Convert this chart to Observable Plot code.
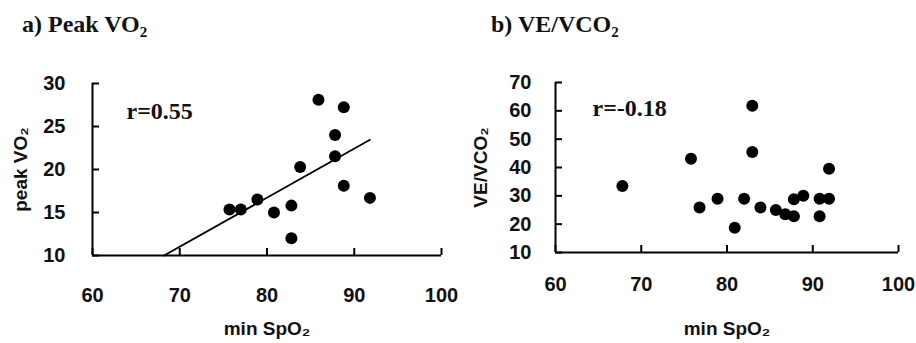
<!DOCTYPE html>
<html><head><meta charset="utf-8">
<script src="https://cdn.jsdelivr.net/npm/d3@7"></script>
<script src="https://cdn.jsdelivr.net/npm/@observablehq/plot@0.6"></script>
<style>
body{margin:0;background:#fff}
#wrap{position:relative;width:916px;height:343px;overflow:hidden;background:#fff}
.panel{position:absolute;top:0}
.ptitle{position:absolute;font-family:Liberation Serif, Times New Roman, serif;font-weight:bold;font-size:24px;line-height:24px;white-space:nowrap;color:#111}
.ptitle sub{font-size:15px;vertical-align:-5px;line-height:0}
</style></head>
<body><div id="wrap"></div>
<script>
// ---- data ----
const xTicks = [60, 70, 80, 90, 100];
const vo2Ticks = [10, 15, 20, 25, 30];
const veTicks = [10, 20, 30, 40, 50, 60, 70];

// panel a) peak VO2 vs min SpO2
const vo2SpO2  = [85.9, 88.8, 87.8, 87.8, 83.8, 88.8, 91.8, 78.9, 75.7, 77.0, 80.8, 82.8, 82.8];
const vo2Value = [28.1, 27.25, 24.0, 21.55, 20.3, 18.1, 16.7, 16.5, 15.35, 15.35, 15.0, 15.8, 12.0];
// fitted trend line
const fitSpO2 = [68.2, 91.8];
const fitVo2  = [10, 23.45];

// panel b) VE/VCO2 vs min SpO2
const veSpO2  = [67.8, 75.8, 82.95, 82.95, 91.9, 76.8, 78.9, 82.0, 80.9, 83.9, 85.7, 86.8, 87.8, 87.8, 88.9, 90.8, 91.9, 90.8];
const veValue = [33.5, 43.1, 61.8, 45.5, 39.6, 25.9, 29.0, 29.0, 18.7, 25.9, 25.0, 23.5, 22.8, 28.8, 30.0, 29.0, 29.0, 22.8];

const titles = ["a) Peak VO<sub>2</sub>", "b) VE/VCO<sub>2</sub>"];
const rTexts = ["r=0.55", "r=-0.18"];
const yLabels = ["peak VO₂", "VE/VCO₂"];
const xLabel = "min SpO₂";

// ---- drawing ----
function panel({sx, sy, yTicks, yDomain, fit, rText, yLabel, m, xPad, yPad, rdx, rdy, xlDy, ylDx}) {
  const W = 458, H = 343, TICK = 7;
  const innerW = W - m.left - m.right, innerH = H - m.top - m.bottom;
  const pts = sx.map((x, i) => ({x, y: sy[i]}));
  const marks = [
    Plot.ruleY([yDomain[0]], {stroke: "#000", strokeWidth: 2}),
    Plot.ruleX([xTicks[0]], {stroke: "#000", strokeWidth: 2}),
    Plot.tickX(xTicks, {x: d => d, stroke: "#000", strokeWidth: 2, insetTop: innerH - TICK}),
    Plot.tickY(yTicks, {y: d => d, stroke: "#000", strokeWidth: 2, insetRight: innerW - TICK}),
    Plot.axisX({ticks: xTicks, tickSize: 0, tickPadding: xPad, fontSize: 20, fontWeight: "bold", fill: "#111", tickFormat: d => d, label: null}),
    Plot.axisY({ticks: yTicks, tickSize: 0, tickPadding: yPad, fontSize: 20, fontWeight: "bold", fill: "#111", tickFormat: d => d, label: null})
  ];
  if (fit) {
    const f = fit.x.map((x, i) => ({x, y: fit.y[i]}));
    marks.push(Plot.line(f, {x: "x", y: "y", stroke: "#000", strokeWidth: 1.8}));
  }
  marks.push(
    Plot.dot(pts, {x: "x", y: "y", r: 6, fill: "#000", stroke: "none"}),
    Plot.text([rText], {text: d => d, frameAnchor: "top-left", dx: rdx, dy: rdy, textAnchor: "start",
      lineAnchor: "middle", fontFamily: "Liberation Serif, Times New Roman, serif", fontWeight: "bold", fontSize: 24, fill: "#111"}),
    Plot.text([xLabel], {text: d => d, frameAnchor: "bottom", dy: xlDy, textAnchor: "middle", lineAnchor: "middle",
      fontWeight: "bold", fontSize: 19, fill: "#111"}),
    Plot.text([yLabel], {text: d => d, frameAnchor: "left", dx: ylDx, rotate: -90, textAnchor: "middle", lineAnchor: "middle",
      fontWeight: "bold", fontSize: 19, fill: "#111"})
  );
  return Plot.plot({
    width: W, height: H,
    marginLeft: m.left, marginRight: m.right, marginTop: m.top, marginBottom: m.bottom,
    x: {domain: [xTicks[0], xTicks[xTicks.length - 1]]},
    y: {domain: yDomain},
    style: {fontFamily: "Arial", fontSize: "19px", background: "transparent", overflow: "visible"},
    marks
  });
}

const wrap = document.getElementById("wrap");

const pa = panel({
  sx: vo2SpO2, sy: vo2Value, yTicks: vo2Ticks, yDomain: [10, 30],
  fit: {x: fitSpO2, y: fitVo2}, rText: rTexts[0], yLabel: yLabels[0],
  m: {left: 92, right: 17, top: 83, bottom: 88}, xPad: 32, yPad: 27,
  rdx: 34, rdy: 27.5, xlDy: 73, ylDx: -72
});
pa.classList.add("panel"); pa.style.left = "0px";

const pb = panel({
  sx: veSpO2, sy: veValue, yTicks: veTicks, yDomain: [10, 70],
  fit: null, rText: rTexts[1], yLabel: yLabels[1],
  m: {left: 97, right: 18, top: 82, bottom: 91}, xPad: 24, yPad: 24,
  rdx: 37, rdy: 26, xlDy: 76, ylDx: -75
});
pb.classList.add("panel"); pb.style.left = "458px";
wrap.append(pa, pb);

[[titles[0], 22], [titles[1], 491]].forEach(([t, x]) => {
  const d = document.createElement("div");
  d.className = "ptitle";
  d.innerHTML = t;
  d.style.left = x + "px";
  d.style.top = "12px";
  wrap.appendChild(d);
});
</script>
</body></html>
